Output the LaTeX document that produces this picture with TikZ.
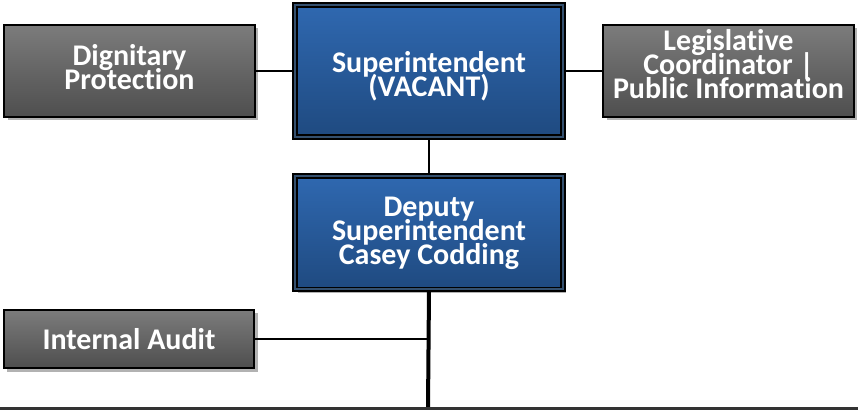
\documentclass[tikz,border=0pt]{standalone}
\usepackage{fontspec}
\setmainfont{Carlito}[Ligatures={NoCommon}]
\usetikzlibrary{shadows}
\definecolor{bluetop}{HTML}{2F68B0}
\definecolor{bluebot}{HTML}{1F4A80}
\definecolor{graytop}{HTML}{7C7C7C}
\definecolor{graybot}{HTML}{4E4E4E}
\definecolor{gapcol}{HTML}{34506F}
\newcommand\tightlines{\lineskip=0pt\relax\lineskiplimit=-100pt\relax}
\tikzset{
  boxtext/.style={text=white, align=center, font=\fontsize{22.5}{18}\selectfont\bfseries\tightlines, inner sep=0pt},
  shad/.style={drop shadow={shadow xshift=2.5pt, shadow yshift=-2.5pt, fill=black!30, opacity=1}},
  bluebox/.style={shad, rectangle, top color=bluetop, bottom color=bluebot, draw=black, line width=1.4pt, double=gapcol, double distance=1.2pt, minimum width=201pt, inner sep=0pt},
  graybox/.style={shad, rectangle, top color=graytop, bottom color=graybot, draw=black, line width=1.5pt, minimum width=188pt, inner sep=0pt},
  conn/.style={line width=1.6pt, draw=black},
}
\begin{document}
\begin{tikzpicture}[x=0.75pt, y=-0.75pt]
\useasboundingbox (0,0) rectangle (858,411);
\node[bluebox, minimum height=99pt] (sup) at (429,71) {};
\node[boxtext] (suptxt) at (429,76.5) {Superintendent\\(VACANT)};
\node[bluebox, minimum height=85pt] (dep) at (429,232.5) {};
\node[boxtext] (deptxt) at (429,233.5) {Deputy\\Superintendent\\Casey Codding};
\node[graybox, minimum height=69pt] (dig) at (129.5,71) {};
\node[boxtext] (digtxt) at (129.5,67) {Dignitary\\Protection};
\node[graybox, minimum height=69pt] (leg) at (728.5,71) {};
\node[boxtext] (legtxt) at (728.5,64) {Legislative\\Coordinator |\\Public Information};
\node[graybox, minimum height=44pt] (aud) at (129,339) {};
\node[boxtext] (audtxt) at (129,339) {Internal Audit};
\coordinate (bl) at (0,408.5);
\coordinate (br) at (858,408.5);
\coordinate (bm) at (428,408.5);
\draw[conn] (dig.east) -- (sup.west);
\draw[conn] (sup.east) -- (leg.west);
\draw[conn] (sup.south) -- (dep.north);
\draw[line width=3pt] (dep.south) -- (bm);
\draw[conn] (aud.east) -- (aud.east -| bm);
\draw[line width=1.6pt, draw=black!80] (bl) -- (br);
\end{tikzpicture}
\end{document}
